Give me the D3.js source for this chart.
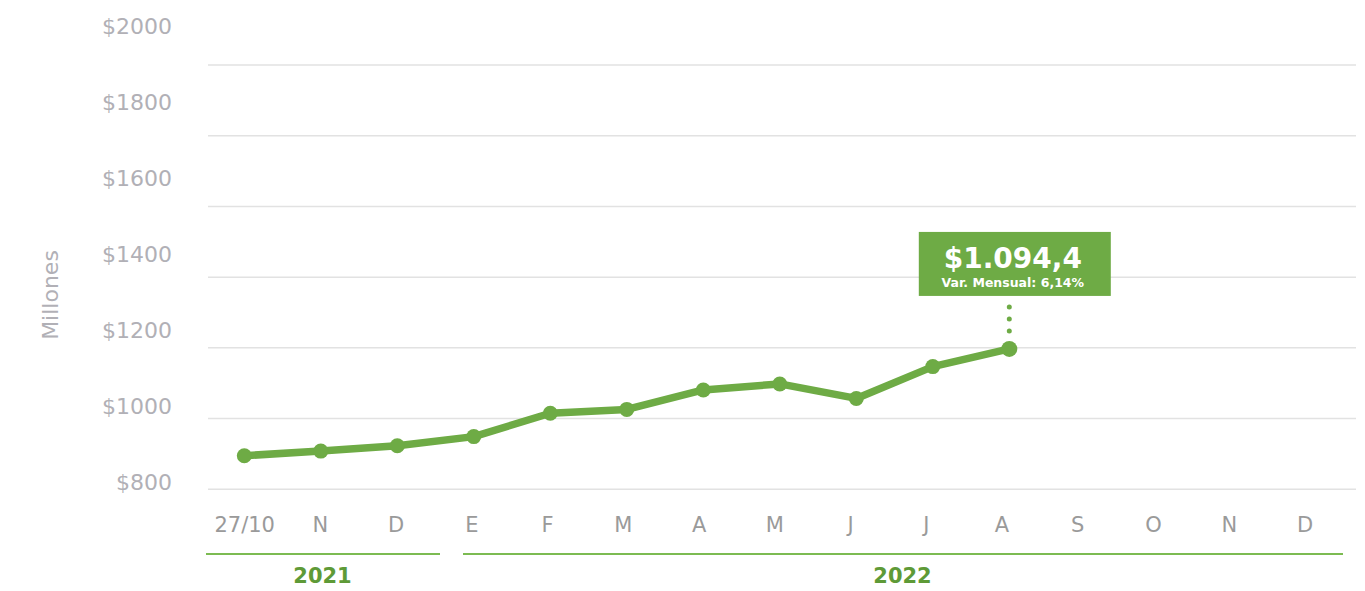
<!DOCTYPE html>
<html>
<head>
<meta charset="utf-8">
<script src="https://cdn.jsdelivr.net/npm/d3@7"></script>
<style>
  body { margin: 0; background: #fff; }
  text { font-family: "DejaVu Sans", sans-serif; }
</style>
</head>
<body>
<script>
// data
var months = ["27/10", "N", "D", "E", "F", "M", "A", "M", "J", "J", "A", "S", "O", "N", "D"];
var values = [895, 908, 923, 949, 1015, 1026, 1081, 1098, 1057, 1147, 1197];
var yTicks = [800, 1000, 1200, 1400, 1600, 1800, 2000];
var years = [
  {label: "2021", from: 0, to: 2},
  {label: "2022", from: 3, to: 14}
];
var noteValue = "$1.094,4";
var noteSub = "Var. Mensual: 6,14%";

var width = 1365, height = 591;
var green = "#6eab45";

var svg = d3.select("body").append("svg")
    .attr("width", width)
    .attr("height", height);

// gridlines / data scale
var y = d3.scaleLinear()
    .domain([800, 2000])
    .range([489.3, 65]);

// tick labels sit on their own spacing in the original
var yLabel = d3.scaleLinear()
    .domain([800, 2000])
    .range([481.7, 26]);

var idx = d3.range(months.length);

var x = d3.scalePoint()
    .domain(idx)
    .range([244.3, 244.3 + 14 * 76.5]);

var xLabel = d3.scalePoint()
    .domain(idx)
    .range([244.7, 1305]);

// gridlines
svg.append("g")
    .selectAll("line")
    .data(yTicks)
    .enter()
    .append("line")
    .attr("x1", 208)
    .attr("x2", 1356)
    .attr("y1", d => y(d))
    .attr("y2", d => y(d))
    .attr("stroke", "#e2e2e2")
    .attr("stroke-width", 1.5);

// y tick labels
svg.append("g")
    .selectAll("text")
    .data(yTicks)
    .enter()
    .append("text")
    .attr("x", 172)
    .attr("y", d => yLabel(d))
    .attr("dy", "0.36em")
    .attr("text-anchor", "end")
    .attr("fill", "#b1b0b6")
    .attr("font-size", "22px")
    .text(d => "$" + d);

svg.append("text")
    .attr("transform", "translate(58,295)rotate(-90)")
    .attr("text-anchor", "middle")
    .attr("fill", "#b1b0b6")
    .attr("font-size", "22px")
    .text("Millones");

// x labels
svg.append("g")
    .selectAll("text")
    .data(idx)
    .enter()
    .append("text")
    .attr("x", d => xLabel(d))
    .attr("y", 532)
    .attr("text-anchor", "middle")
    .attr("fill", "#9a9a9a")
    .attr("font-size", "21px")
    .text(d => months[d]);

// year brackets
var yr = svg.append("g").selectAll("g")
    .data(years)
    .enter()
    .append("g");

yr.append("line")
    .attr("x1", d => d.from == 0 ? 206 : 463)
    .attr("x2", d => d.from == 0 ? 440 : 1343)
    .attr("y1", 554)
    .attr("y2", 554)
    .attr("stroke", "#7cbb52")
    .attr("stroke-width", 2);

yr.append("text")
    .attr("x", d => d.from == 0 ? 322.5 : 902.5)
    .attr("y", 583)
    .attr("text-anchor", "middle")
    .attr("fill", "#5e9a37")
    .attr("font-size", "21px")
    .attr("font-weight", "bold")
    .text(d => d.label);

// line
var line = d3.line()
    .x((d, i) => x(i))
    .y(d => y(d));

svg.append("path")
    .datum(values)
    .attr("d", line)
    .attr("fill", "none")
    .attr("stroke", green)
    .attr("stroke-width", 7.5)
    .attr("stroke-linejoin", "round");

svg.append("g")
    .selectAll("circle")
    .data(values)
    .enter()
    .append("circle")
    .attr("cx", (d, i) => x(i))
    .attr("cy", d => y(d))
    .attr("r", (d, i) => i == values.length - 1 ? 8 : 7.5)
    .attr("fill", green);

// callout on last point
var last = values.length - 1;
var px = x(last), py = y(values[last]);

svg.append("line")
    .attr("x1", px)
    .attr("x2", px)
    .attr("y1", py - 18)
    .attr("y2", py - 44)
    .attr("stroke", green)
    .attr("stroke-width", 5)
    .attr("stroke-linecap", "round")
    .attr("stroke-dasharray", "0,12");

var note = svg.append("g")
    .attr("transform", "translate(" + (px + 5.5) + "," + (py - 117) + ")");

note.append("rect")
    .attr("x", -96)
    .attr("y", 0)
    .attr("width", 192)
    .attr("height", 64)
    .attr("fill", green);

note.append("text")
    .attr("x", -2)
    .attr("y", 36)
    .attr("text-anchor", "middle")
    .attr("fill", "#fff")
    .attr("font-size", "28px")
    .attr("font-weight", "bold")
    .text(noteValue);

note.append("text")
    .attr("x", -2)
    .attr("y", 55)
    .attr("text-anchor", "middle")
    .attr("fill", "#fff")
    .attr("font-size", "12.5px")
    .attr("font-weight", "bold")
    .text(noteSub);
</script>
</body>
</html>
